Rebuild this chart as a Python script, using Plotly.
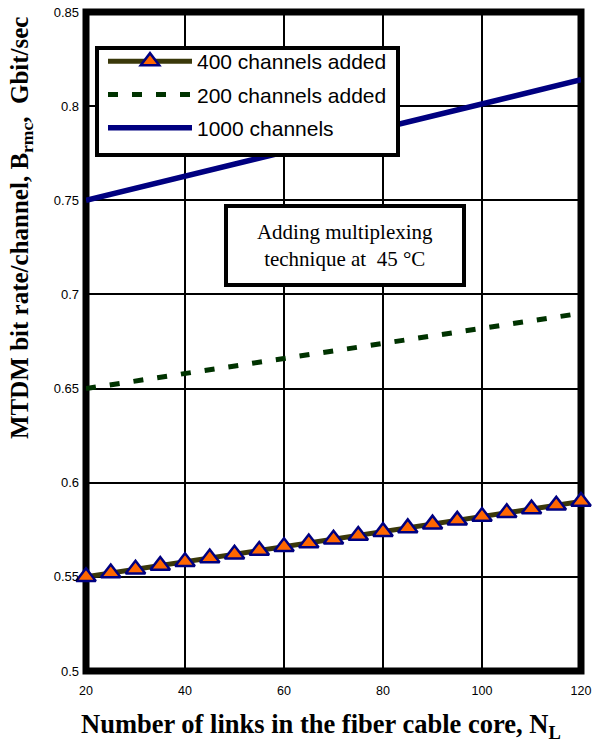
import plotly.graph_objects as go

# ---- data ----
n_links = [20, 25, 30, 35, 40, 45, 50, 55, 60, 65, 70, 75, 80, 85, 90, 95, 100, 105, 110, 115, 120]
rate_400 = [0.550, 0.552, 0.554, 0.556, 0.558, 0.560, 0.562, 0.564, 0.566, 0.568, 0.570,
            0.572, 0.574, 0.576, 0.578, 0.580, 0.582, 0.584, 0.586, 0.588, 0.590]
rate_200 = [0.650, 0.652, 0.654, 0.656, 0.658, 0.660, 0.662, 0.664, 0.666, 0.668, 0.670,
            0.672, 0.674, 0.676, 0.678, 0.680, 0.682, 0.684, 0.686, 0.688, 0.690]
links_1000 = [20, 120]
rate_1000 = [0.750, 0.814]

x_ticks = [20, 40, 60, 80, 100, 120]
x_tick_text = ["20", "40", "60", "80", "100", "120"]
y_ticks = [0.5, 0.55, 0.6, 0.65, 0.7, 0.75, 0.8, 0.85]
y_tick_text = ["0.5", "0.55", "0.6", "0.65", "0.7", "0.75", "0.8", "0.85"]

# plot area in pixels (for converting box positions to paper coords)
PL, PR, PT, PB = 86, 581, 12, 671
def px(x):
    return (x - PL) / (PR - PL)
def py(y):
    return (PB - y) / (PB - PT)

fig = go.Figure()
fig.add_trace(go.Scatter(
    x=n_links, y=rate_400, mode="lines+markers", name="400 channels added",
    legendgroup="a",
    line=dict(color="#3a380a", width=5),
    marker=dict(symbol="triangle-up", size=17, color="#ff6600",
                line=dict(color="#000080", width=2.5)),
    cliponaxis=False))
fig.add_trace(go.Scatter(
    x=n_links, y=rate_200, mode="lines", name="200 channels added",
    legendgroup="b",
    line=dict(color="#003300", width=5, dash="10px,14px"),
    cliponaxis=False))
fig.add_trace(go.Scatter(
    x=links_1000, y=rate_1000, mode="lines", name="1000 channels",
    legendgroup="c",
    line=dict(color="#000080", width=5.5),
    cliponaxis=False))

fig.update_layout(
    width=592, height=746,
    margin=dict(l=PL, r=592 - PR, t=PT, b=746 - PB),
    paper_bgcolor="white", plot_bgcolor="white",
    font=dict(family="Liberation Sans, Arial", color="black"),
    showlegend=True,
    legend=dict(
        x=px(103), y=py(41), xanchor="left", yanchor="top",
        bgcolor="rgba(0,0,0,0)", borderwidth=0,
        font=dict(family="Liberation Sans, Arial", size=21, color="black"),
        traceorder="grouped", tracegroupgap=3, itemwidth=84,
    ),
    xaxis=dict(
        range=[20, 120], tickvals=x_ticks, ticktext=x_tick_text,
        showgrid=True, gridcolor="black", gridwidth=2,
        zeroline=False, showline=False, ticks="", automargin=False,
        tickfont=dict(size=12.5, family="Liberation Sans, Arial"),
        ticklabelstandoff=10,
    ),
    yaxis=dict(
        range=[0.5, 0.85], tickvals=y_ticks, ticktext=y_tick_text,
        showgrid=True, gridcolor="black", gridwidth=2,
        zeroline=False, showline=False, ticks="", automargin=False,
        tickfont=dict(size=13, family="Liberation Sans, Arial"),
        ticklabelstandoff=6,
    ),
    shapes=[
        dict(type="rect", xref="paper", yref="paper", x0=0, y0=0, x1=1, y1=1,
             line=dict(color="black", width=7), layer="below"),
        # legend frame
        dict(type="rect", xref="paper", yref="paper",
             x0=px(97), x1=px(398), y0=py(155), y1=py(48),
             line=dict(color="black", width=4), fillcolor="white", layer="above"),
    ],
    annotations=[
        dict(text="Adding multiplexing<br>technique at  45 °C",
             xref="paper", yref="paper",
             x=px(345), y=py(245.5),
             xanchor="center", yanchor="middle", showarrow=False,
             font=dict(family="Liberation Serif, Times New Roman", size=21, color="black"),
             bgcolor="white", bordercolor="black", borderwidth=4, borderpad=0,
             width=234, height=75, align="center"),
        dict(text="<b>Number of links in the fiber cable core, N<sub>L</sub></b>",
             xref="paper", yref="paper",
             x=px(321), y=py(726),
             xanchor="center", yanchor="middle", showarrow=False,
             font=dict(family="Liberation Serif, Times New Roman", size=26.5, color="black")),
        dict(text="<b>MTDM bit rate/channel, B<sub>rmc</sub>,  Gbit/sec</b>",
             xref="paper", yref="paper", textangle=-90,
             x=px(22), y=py(228),
             xanchor="center", yanchor="middle", showarrow=False,
             font=dict(family="Liberation Serif, Times New Roman", size=25, color="black")),
    ],
)

fig.write_html("out.html")
